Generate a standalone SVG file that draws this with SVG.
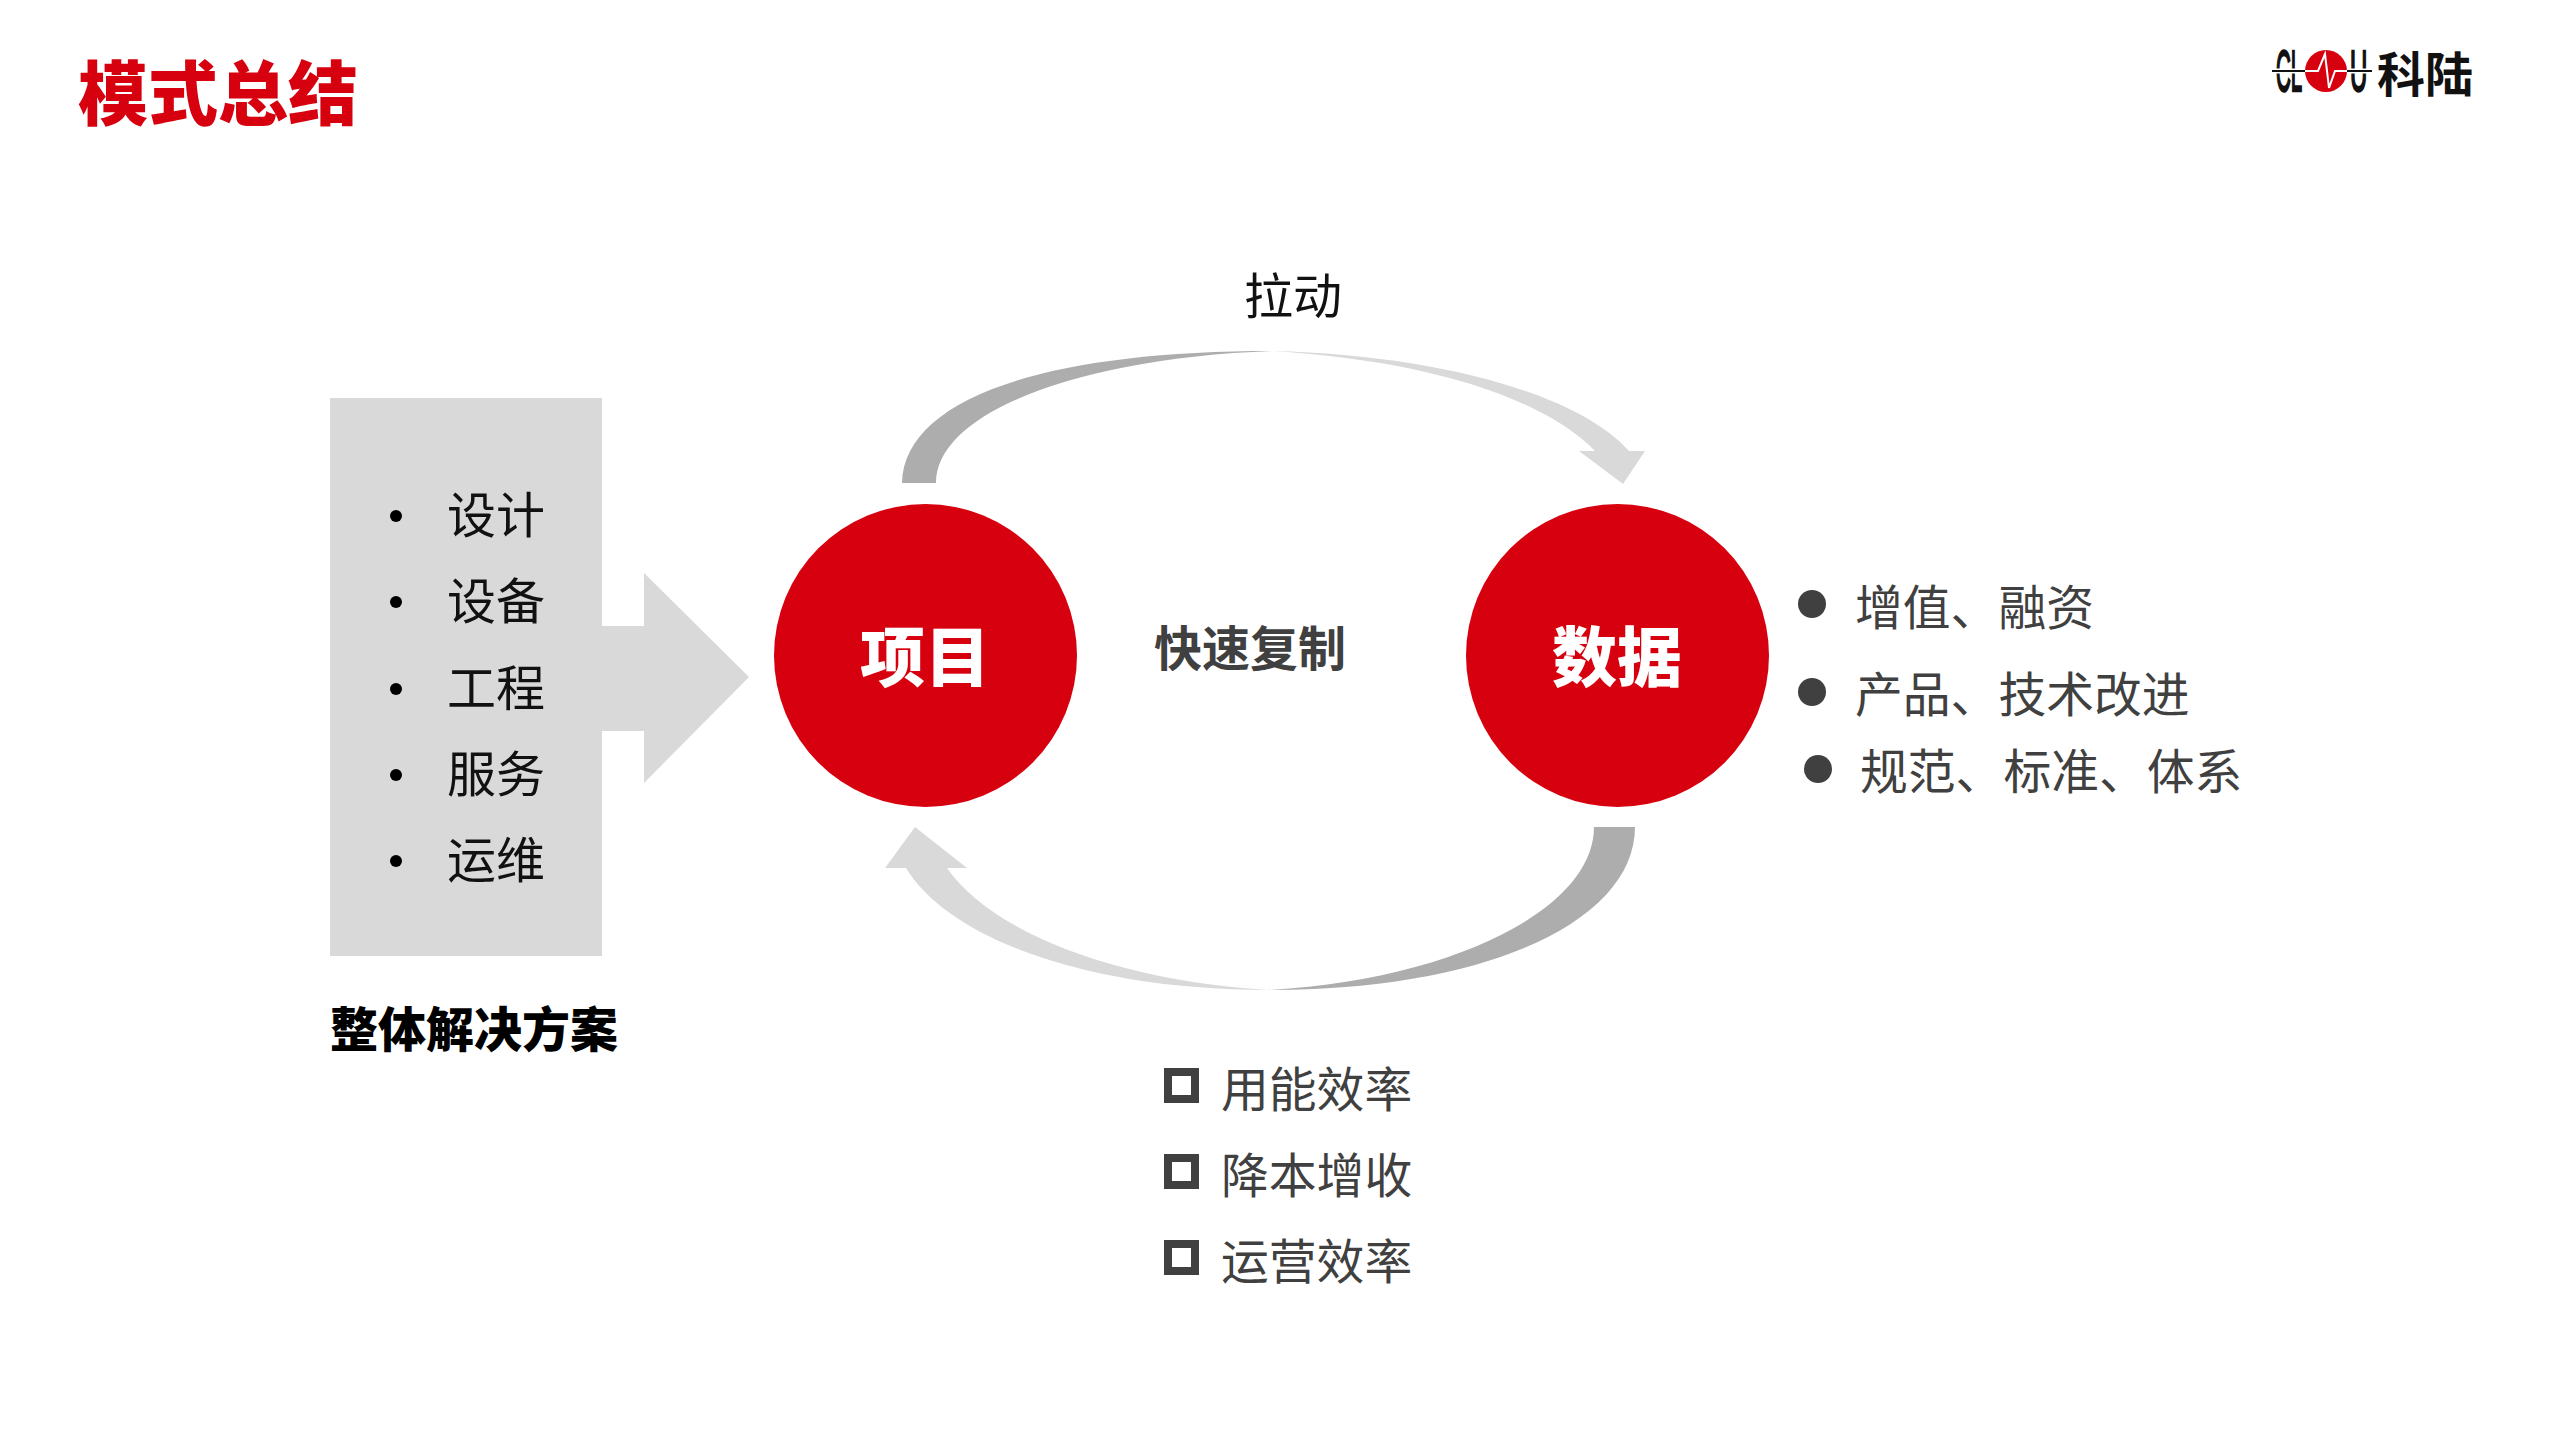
<svg xmlns="http://www.w3.org/2000/svg" width="2560" height="1440" viewBox="0 0 2560 1440">
<style>
text{font-family:"Noto Sans CJK SC","Liberation Sans",sans-serif}
.k{font-size:49px;fill:#111}
.g{font-size:47.8px;fill:#404040}
.w{font-size:65px;font-weight:900;fill:#fff;text-anchor:middle}
.dark{fill:#ADADAD}.light{fill:#D9D9D9}.red{fill:#D7000F}
.dot{fill:#404040}
.sq{fill:none;stroke:#404040;stroke-width:8}
.lt{font-family:"Liberation Sans",sans-serif;font-size:57px;fill:#111;stroke:#111;stroke-width:2.5}
</style>
<rect width="2560" height="1440" fill="#fff"/>
<text id="title" x="78" y="120" font-size="70" font-weight="900" fill="#D7000F">模式总结</text>
<g id="logo">
<text class="lt" transform="translate(2276 91) scale(.36 1)">CL</text>
<text class="lt" transform="translate(2350 91) scale(.42 1)">U</text>
<circle cx="2326" cy="71" r="21" fill="#D7000F"/>
<path d="M2272 71H2305M2347 71H2372" fill="none" stroke="#fff" stroke-width="5"/>
<path d="M2272 71H2305M2347 71H2372" fill="none" stroke="#111" stroke-width="2"/>
<path d="M2305 71H2318L2325 54L2329 88L2335 71H2347" fill="none" stroke="#fff" stroke-width="2"/>
<text x="2377" y="92" font-size="48" font-weight="700" fill="#111">科陆</text>
</g>
<g id="solution">
<rect class="light" x="330" y="398" width="272" height="558"/>
<g fill="#000"><circle cx="396" cy="516" r="6"/><circle cx="396" cy="602" r="6"/><circle cx="396" cy="689" r="6"/><circle cx="396" cy="775" r="6"/><circle cx="396" cy="861" r="6"/></g>
<text class="k" x="447" y="533">设计</text>
<text class="k" x="447" y="619">设备</text>
<text class="k" x="447" y="706">工程</text>
<text class="k" x="447" y="792">服务</text>
<text class="k" x="447" y="878">运维</text>
<text x="330" y="1047" font-size="48" font-weight="900" fill="#000">整体解决方案</text>
</g>
<g id="connectors">
<path class="light" d="M600 626H644V573L749 677L644 783V731H600Z"/>
<path class="dark" d="M902 483C904 400 1040 351 1272 351C1080 358 936 412 936 483Z"/>
<path class="light" d="M1272 351C1440 355 1580 395 1629 451H1645L1623 484L1579 451H1595C1540 395 1420 360 1272 351Z"/>
<path class="dark" d="M1635 827C1635 920 1490 990 1268 990C1450 980 1594 910 1594 827Z"/>
<path class="light" d="M1268 990C1090 990 950 940 906 868H885L915 827L967 868H947C990 930 1110 980 1268 990Z"/>
</g>
<g id="project"><circle class="red" cx="925.500" cy="655.500" r="151.500"/><text class="w" x="925" y="681">项目</text></g>
<g id="data"><circle class="red" cx="1617.500" cy="655.500" r="151.500"/><text class="w" x="1617" y="681">数据</text></g>
<text id="pull" x="1293" y="314" font-size="49" fill="#111" text-anchor="middle">拉动</text>
<text id="copy" x="1250" y="666" font-size="48" font-weight="700" fill="#404040" text-anchor="middle">快速复制</text>
<g id="benefits">
<circle class="dot" cx="1812" cy="604" r="14"/><circle class="dot" cx="1812" cy="692" r="14"/><circle class="dot" cx="1818" cy="769" r="14"/>
<text class="g" x="1855" y="625">增值、融资</text>
<text class="g" x="1855" y="712">产品、技术改进</text>
<text class="g" x="1860" y="789">规范、标准、体系</text>
</g>
<g id="values">
<rect class="sq" x="1168" y="1072" width="27" height="27"/><rect class="sq" x="1168" y="1158" width="27" height="27"/><rect class="sq" x="1168" y="1244" width="27" height="27"/>
<text class="g" x="1221" y="1107">用能效率</text>
<text class="g" x="1221" y="1193">降本增收</text>
<text class="g" x="1221" y="1279">运营效率</text>
</g>
</svg>
